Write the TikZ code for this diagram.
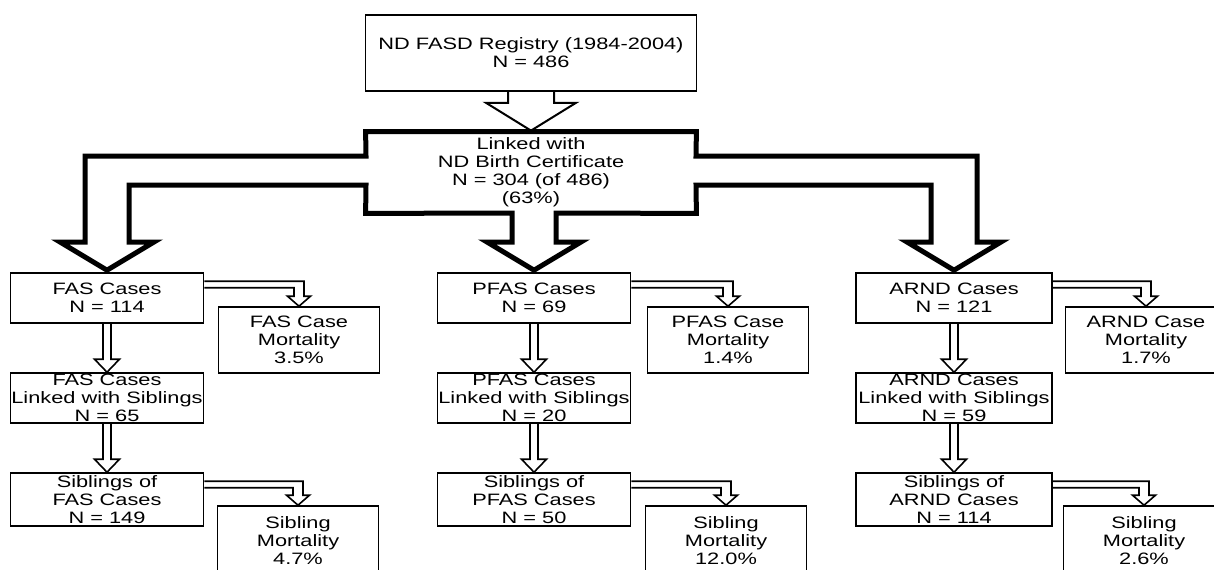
\documentclass[tikz,border=0pt]{standalone}
\usepackage{fontspec}
\setmainfont{Liberation Sans}[FakeStretch=1.32]
\usetikzlibrary{calc}

% thin double-line arrow from the side of one box down onto another
\newcommand{\sidearrow}[2]{%
  \draw[thinarrow] ($(#1.north east)+(0,9)$) -| ($(#2.north)+(5,-10)$)
    -- ($(#2.north)+(11.5,-10)$) -- (#2.north) -- ($(#2.north)+(-11.5,-10)$)
    -- ($(#2.north)+(-5,-10)$) |- ($(#1.north east)+(0,15.5)$);}
% thin double-line arrow straight down
\newcommand{\dnarrow}[2]{%
  \draw[thinarrow] ($(#1.south)+(-4,0)$) -- ($(#2.north)+(-4,-13)$)
    -- ($(#2.north)+(-12.5,-13)$) -- (#2.north) -- ($(#2.north)+(12.5,-13)$)
    -- ($(#2.north)+(4,-13)$) -- ($(#1.south)+(4,0)$);}

\begin{document}
\begin{tikzpicture}[x=0.5pt,y=-0.5pt,
  every node/.style={font=\fontsize{8.25}{9}\selectfont, align=center, inner sep=0pt},
  box/.style={draw, line width=0.8pt},
  casebox/.style={box, minimum width=96.5pt, minimum height=25pt},
  mortbox/.style={box, minimum width=80.5pt, minimum height=33pt},
  thinarrow/.style={line width=0.8pt, line join=miter},
  bigarrow/.style={line width=2.5pt, line join=miter}]
  \useasboundingbox (0,0) rectangle (1214,569);
  \clip (0,0) rectangle (1214,569);

  \node[box, minimum width=165.5pt, minimum height=38pt] (reg) at (531,53)
    {ND FASD Registry (1984-2004)\\N = 486};
  \node[minimum width=165pt, minimum height=40.5pt] (link) at (531,172.5)
    {Linked with\\ND Birth Certificate\\N = 304 (of 486)\\(63\%)};

  % FAS column
  \node[casebox] (fas) at (107,298) {FAS Cases\\N = 114};
  \node[mortbox] (fasm) at (299,340) {FAS Case\\Mortality\\3.5\%};
  \node[casebox] (fasl) at (107,398) {FAS Cases\\Linked with Siblings\\N = 65};
  \node[casebox, minimum height=26.5pt] (fass) at (107,499.5) {Siblings of\\FAS Cases\\N = 149};
  \node[mortbox, minimum height=35pt] (fassm) at (298,541) {Sibling\\Mortality\\4.7\%};

  % PFAS column
  \node[casebox] (pfas) at (534,298) {PFAS Cases\\N = 69};
  \node[mortbox] (pfasm) at (728,340) {PFAS Case\\Mortality\\1.4\%};
  \node[casebox] (pfasl) at (534,398) {PFAS Cases\\Linked with Siblings\\N = 20};
  \node[casebox, minimum height=26.5pt] (pfass) at (534,499.5) {Siblings of\\PFAS Cases\\N = 50};
  \node[mortbox, minimum height=35pt] (pfassm) at (726,541) {Sibling\\Mortality\\12.0\%};

  % ARND column
  \node[casebox, minimum width=98pt] (arnd) at (954,298) {ARND Cases\\N = 121};
  \node[mortbox] (arndm) at (1146,340) {ARND Case\\Mortality\\1.7\%};
  \node[casebox, minimum width=98pt] (arndl) at (954,398) {ARND Cases\\Linked with Siblings\\N = 59};
  \node[casebox, minimum width=98pt, minimum height=26.5pt] (arnds) at (954,499.5) {Siblings of\\ARND Cases\\N = 114};
  \node[mortbox, minimum height=35pt] (arndsm) at (1144,541) {Sibling\\Mortality\\2.6\%};

  % registry to linked
  \draw[thinarrow, line width=1pt] ($(reg.south)+(-23,0)$) -- ($(reg.south)+(-23,11)$)
    -- ($(reg.south)+(-45,11)$) -- ($(link.north)+(0,-1)$) -- ($(reg.south)+(45,11)$)
    -- ($(reg.south)+(23,11)$) -- ($(reg.south)+(23,0)$);

  % linked box with its three branches
  \draw[bigarrow] (link.north west) -- (link.north east) -- (696,156) -- (977,156)
    -- (977,242) -- (1001,242) -- ($(arnd.north)+(0,-2)$) -- (907,242) -- (931,242)
    -- (931,185) -- (696,185) -- (link.south east) -- (556,213) -- (556,242)
    -- (581,242) -- ($(pfas.north)+(0,-2)$) -- (487,242) -- (512,242) -- (512,213)
    -- (link.south west) -- (366,185) -- (129,185) -- (129,242) -- (154,242)
    -- ($(fas.north)+(0,-2)$) -- (60,242) -- (85,242) -- (85,156) -- (366,156) -- cycle;

  \sidearrow{fas}{fasm}
  \sidearrow{fass}{fassm}
  \sidearrow{pfas}{pfasm}
  \sidearrow{pfass}{pfassm}
  \sidearrow{arnd}{arndm}
  \sidearrow{arnds}{arndsm}
  \dnarrow{fas}{fasl}
  \dnarrow{fasl}{fass}
  \dnarrow{pfas}{pfasl}
  \dnarrow{pfasl}{pfass}
  \dnarrow{arnd}{arndl}
  \dnarrow{arndl}{arnds}
\end{tikzpicture}
\end{document}
